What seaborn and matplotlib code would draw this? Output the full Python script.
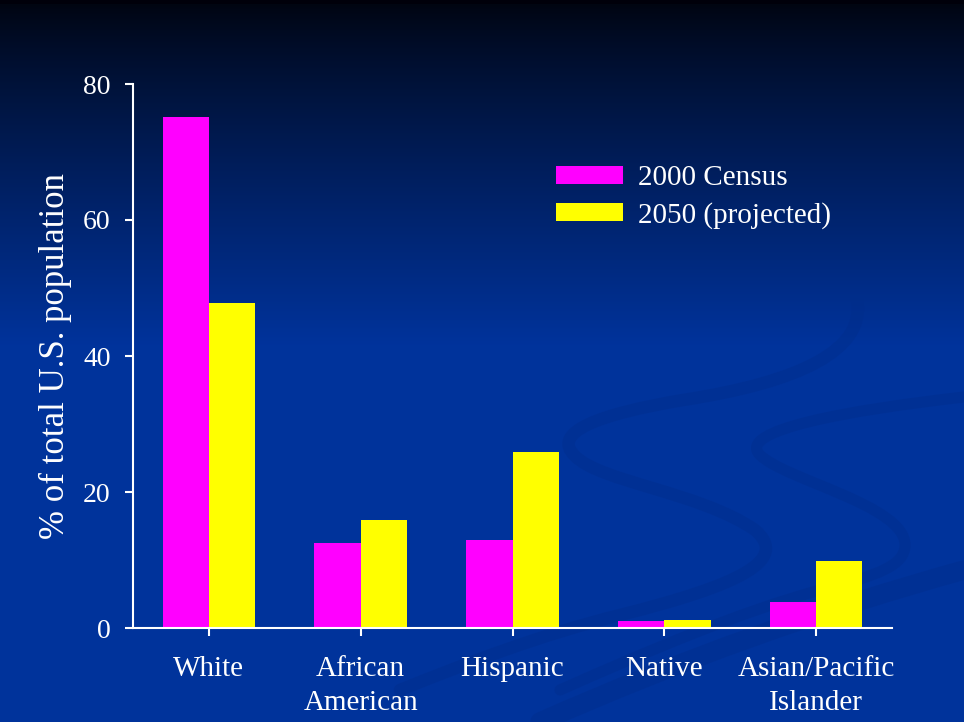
import numpy as np
import pandas as pd
import matplotlib
matplotlib.use("Agg")
import matplotlib.pyplot as plt
from matplotlib.path import Path
from matplotlib.patches import PathPatch
import seaborn as sns

# Values (% of total U.S. population)
groups = ["White", "African\nAmerican", "Hispanic", "Native", "Asian/Pacific\nIslander"]
census_2000 = [75.2, 12.5, 13.0, 1.0, 3.8]
projected_2050 = [47.8, 15.9, 25.9, 1.2, 9.9]
series_names = ["2000 Census", "2050 (projected)"]
yticks = [0, 20, 40, 60, 80]

df = pd.DataFrame({
    "group": groups * 2,
    "series": [series_names[0]] * len(groups) + [series_names[1]] * len(groups),
    "value": census_2000 + projected_2050,
})

sns.set_theme(style="white")
plt.rcParams["font.family"] = ["Liberation Serif", "DejaVu Serif"]

fig = plt.figure(figsize=(9.64, 7.22), dpi=100)

# slide background: dark navy at the top fading into royal blue
bg = fig.add_axes([0, 0, 1, 1], zorder=-10)
rows = 722
t = np.clip((np.arange(rows) - 5) / 340.0, 0, 1)
top = np.array([0.0, 0.02, 0.07])
bottom = np.array([0.0, 0.20, 0.61])
grad = top[None, :] + (bottom - top)[None, :] * (t ** 0.85)[:, None]
grad[:4] = [0.0, 0.0, 0.04]
bg.imshow(np.repeat(grad[:, None, :], 2, axis=1), aspect="auto",
          extent=[0, 964, 722, 0], origin="upper")
bg.set_xlim(0, 964)
bg.set_ylim(722, 0)
bg.axis("off")

# faint swoosh decoration (slide template), in pixel coordinates
C = Path.CURVE4
swooshes = [
    ([(857, 300), (866, 350), (800, 382), (683, 400),
      (600, 414), (550, 432), (575, 456),
      (600, 482), (700, 492), (755, 530),
      (790, 560), (740, 585), (620, 615),
      (540, 635), (470, 662), (400, 690)], 9),
    ([(964, 397), (850, 410), (735, 430), (760, 455),
      (785, 480), (905, 505), (905, 545),
      (905, 565), (880, 575), (820, 590),
      (740, 612), (650, 650), (560, 690)], 8),
    ([(964, 570), (820, 610), (680, 660), (540, 722)], 14),
]
for pts, lw in swooshes:
    codes = [Path.MOVETO] + [C] * (len(pts) - 1)
    bg.add_patch(PathPatch(Path(pts, codes), facecolor="none",
                           edgecolor="#002d8a", lw=lw, alpha=0.4,
                           capstyle="round"))

ax = fig.add_axes([133 / 964, 1 - 628 / 722, (892 - 133) / 964, (628 - 84) / 722])
ax.set_facecolor("none")

sns.barplot(data=df, x="group", y="value", hue="series",
            palette=["#ff00ff", "#ffff00"], width=0.61, gap=0,
            saturation=1, edgecolor="none", linewidth=0, ax=ax)

ax.set_xlim(-0.5, 4.5)
ax.set_ylim(0, 80)
ax.set_yticks(yticks)
ax.set_xlabel("")
ax.set_ylabel("% of total U.S. population", color="white", fontsize=25, labelpad=8)

for side in ["top", "right"]:
    ax.spines[side].set_visible(False)
for side in ["left", "bottom"]:
    ax.spines[side].set_color("white")
    ax.spines[side].set_linewidth(1.5)

ax.tick_params(axis="y", colors="white", labelsize=20, direction="out",
               length=6, width=1.5, left=True, pad=10)
ax.tick_params(axis="x", colors="white", labelsize=21, direction="out",
               length=6, width=1.5, bottom=True, pad=14)
for lbl in ax.get_xticklabels():
    lbl.set_linespacing(1.4)

ax.legend(loc="upper left", bbox_to_anchor=(0.542, 0.872), frameon=False,
          fontsize=21, labelcolor="white", handlelength=2.3, handleheight=0.6,
          handletextpad=0.5, labelspacing=0.36, borderaxespad=0)

fig.savefig("out.png", dpi=100)
